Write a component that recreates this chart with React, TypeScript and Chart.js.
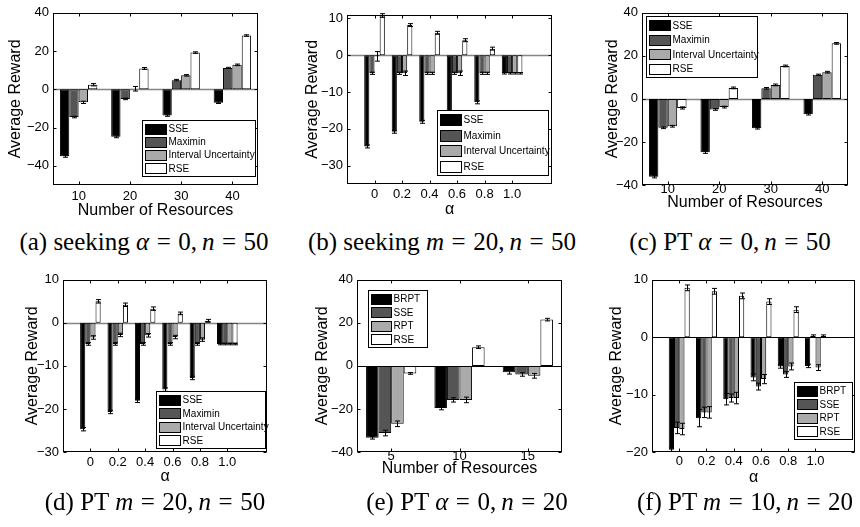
import React, { useEffect, useRef } from 'react';
import { Chart, registerables } from 'chart.js';

Chart.register(...registerables);
Chart.defaults.font.family = '"Liberation Sans", Arial, Helvetica, sans-serif';
Chart.defaults.color = '#000';

// ---------- data ----------
const namesA = ['SSE', 'Maximin', 'Interval Uncertainty', 'RSE'];
const namesPT = ['BRPT', 'SSE', 'RPT', 'RSE'];
const catsRes4 = ['10', '20', '30', '40'];
const catsRes3 = ['5', '10', '15'];
const catsAlpha = ['0', '0.2', '0.4', '0.6', '0.8', '1.0'];

// (a) seeking alpha=0, n=50
const sseA = [-35.0, -24.8, -13.7, -7.0];
const maximinA = [-14.5, -5.0, 4.8, 11.2];
const intervalA = [-6.8, 0.3, 7.3, 12.8];
const rseA = [2.4, 10.9, 19.2, 28.1];
const sseErrA = [0.5, 0.5, 0.4, 0.4];
const maximinErrA = [0.4, 0.4, 0.4, 0.3];
const intervalErrA = [0.6, 1.2, 0.4, 0.4];
const rseErrA = [0.6, 0.5, 0.4, 0.4];
const yTicksA = [-40, -20, 0, 20, 40];

// (b) seeking m=20, n=50
const sseB = [-24.8, -20.8, -18.1, -15.6, -12.8, -4.9];
const maximinB = [-4.9, -4.9, -4.9, -4.9, -4.9, -4.9];
const intervalB = [-0.3, -4.9, -4.9, -4.9, -4.9, -4.9];
const rseB = [10.8, 8.2, 6.1, 4.1, 1.8, -4.9];
const sseErrB = [0.4, 0.4, 0.4, 0.4, 0.4, 0.2];
const maximinErrB = [0.3, 0.3, 0.3, 0.3, 0.3, 0.2];
const intervalErrB = [1.3, 0.6, 0.3, 0.6, 0.3, 0.2];
const rseErrB = [0.5, 0.4, 0.4, 0.4, 0.4, 0.2];
const yTicksB = [-30, -20, -10, 0, 10];

// (c) PT alpha=0, n=50
const sseC = [-36.2, -24.8, -13.6, -7.1];
const maximinC = [-13.4, -4.9, 4.9, 11.2];
const intervalC = [-12.7, -3.8, 6.5, 12.4];
const rseC = [-4.2, 5.1, 15.3, 25.8];
const sseErrC = [0.5, 0.5, 0.4, 0.4];
const maximinErrC = [0.4, 0.4, 0.4, 0.3];
const intervalErrC = [0.4, 0.4, 0.4, 0.4];
const rseErrC = [0.5, 0.4, 0.4, 0.4];
const yTicksC = [-40, -20, 0, 20, 40];

// (d) PT m=20, n=50
const sseD = [-24.7, -20.7, -18.1, -15.5, -12.8, -4.9];
const maximinD = [-4.9, -4.9, -4.9, -4.9, -4.9, -4.9];
const intervalD = [-3.4, -2.8, -2.9, -3.3, -3.9, -4.9];
const rseD = [5.0, 4.2, 3.3, 2.2, 0.5, -4.9];
const sseErrD = [0.4, 0.4, 0.4, 0.4, 0.4, 0.2];
const maximinErrD = [0.3, 0.3, 0.3, 0.3, 0.3, 0.2];
const intervalErrD = [0.4, 0.4, 0.4, 0.4, 0.4, 0.2];
const rseErrD = [0.4, 0.4, 0.4, 0.3, 0.3, 0.2];
const yTicksD = [-30, -20, -10, 0, 10];

// (e) PT alpha=0, n=20
const brptE = [-33.4, -19.6, -2.9];
const sseE = [-31.2, -15.8, -4.0];
const rptE = [-26.9, -15.8, -4.6];
const rseE = [-3.5, 8.7, 21.5];
const brptErrE = [0.6, 0.8, 0.9];
const sseErrE = [1.3, 1.0, 0.8];
const rptErrE = [1.3, 1.3, 1.1];
const rseErrE = [0.4, 0.6, 0.6];
const yTicksE = [-40, -20, 0, 20, 40];

// (f) PT m=10, n=20
const brptF = [-19.6, -14.1, -10.8, -7.0, -5.1, -5.0];
const sseF = [-15.8, -13.1, -10.6, -8.6, -6.5, 0.2];
const rptF = [-16.0, -13.1, -10.6, -7.3, -5.1, -5.3];
const rseF = [8.6, 8.0, 7.2, 6.2, 4.8, 0.2];
const brptErrF = [0.3, 1.5, 1.0, 0.6, 0.3, 0.3];
const sseErrF = [1.0, 0.9, 0.7, 0.6, 0.5, 0.2];
const rptErrF = [1.0, 1.0, 1.0, 0.8, 0.6, 0.5];
const rseErrF = [0.5, 0.5, 0.5, 0.5, 0.5, 0.2];
const yTicksF = [-20, -10, 0, 10];

// ---------- styles / layout ----------
const COLORS = ['#000000', '#555555', '#aaaaaa', '#ffffff'];
const YW = 55, PT = 10, PR = 4, XH = 40;

type Rect = { L: number; T: number; R: number; B: number };
type Panel = {
  cats: string[]; names: string[]; series: number[][]; errs: number[][];
  yMin: number; yMax: number; yTicks: number[]; xMin: number; xMax: number;
  rect: Rect; xTitle: string; yTitlePad: number; xTickPad: number; xTitlePad: number;
  legend: { x: number; y: number; w: number; h: number };
  zeroColor: string; zeroWidth: number; groupWidth: number;
};

const panels: Panel[] = [
  {
    cats: catsRes4, names: namesA,
    series: [sseA, maximinA, intervalA, rseA], errs: [sseErrA, maximinErrA, intervalErrA, rseErrA],
    yMin: -50, yMax: 40, yTicks: yTicksA, xMin: 0.5, xMax: 4.5,
    rect: { L: 53, T: 11, R: 258, B: 185 }, xTitle: 'Number of Resources',
    yTitlePad: 10, xTickPad: 4, xTitlePad: 6,
    legend: { x: 142, y: 120, w: 113, h: 56 }, zeroColor: '#858585', zeroWidth: 1.5, groupWidth: 0.73,
  },
  {
    cats: catsAlpha, names: namesA,
    series: [sseB, maximinB, intervalB, rseB], errs: [sseErrB, maximinErrB, intervalErrB, rseErrB],
    yMin: -35, yMax: 11, yTicks: yTicksB, xMin: 0, xMax: 7.45,
    rect: { L: 347, T: 13, R: 552, B: 184 }, xTitle: 'α',
    yTitlePad: 13, xTickPad: 3, xTitlePad: 6.5,
    legend: { x: 437, y: 110, w: 111, h: 65 }, zeroColor: '#858585', zeroWidth: 1.5, groupWidth: 0.75,
  },
  {
    cats: catsRes4, names: namesA,
    series: [sseC, maximinC, intervalC, rseC], errs: [sseErrC, maximinErrC, intervalErrC, rseErrC],
    yMin: -40, yMax: 40, yTicks: yTicksC, xMin: 0.5, xMax: 4.5,
    rect: { L: 642, T: 11, R: 848, B: 185 }, xTitle: 'Number of Resources',
    yTitlePad: 18, xTickPad: -3, xTitlePad: 14,
    legend: { x: 646, y: 16, w: 111, h: 61 }, zeroColor: '#858585', zeroWidth: 1.5, groupWidth: 0.73,
  },
  {
    cats: catsAlpha, names: namesA,
    series: [sseD, maximinD, intervalD, rseD], errs: [sseErrD, maximinErrD, intervalErrD, rseErrD],
    yMin: -30, yMax: 10, yTicks: yTicksD, xMin: 0, xMax: 7.45,
    rect: { L: 63, T: 278, R: 267, B: 452 }, xTitle: 'α',
    yTitlePad: 17, xTickPad: 3, xTitlePad: 7.5,
    legend: { x: 156, y: 391, w: 109, h: 57 }, zeroColor: '#858585', zeroWidth: 1.5, groupWidth: 0.75,
  },
  {
    cats: catsRes3, names: namesPT,
    series: [brptE, sseE, rptE, rseE], errs: [brptErrE, sseErrE, rptErrE, rseErrE],
    yMin: -40, yMax: 40, yTicks: yTicksE, xMin: 0.5, xMax: 3.5,
    rect: { L: 357, T: 278, R: 562, B: 452 }, xTitle: 'Number of Resources',
    yTitlePad: 13, xTickPad: -3, xTitlePad: 15,
    legend: { x: 368, y: 290, w: 59, h: 57 }, zeroColor: '#000000', zeroWidth: 1, groupWidth: 0.735,
  },
  {
    cats: catsAlpha, names: namesPT,
    series: [brptF, sseF, rptF, rseF], errs: [brptErrF, sseErrF, rptErrF, rseErrF],
    yMin: -20, yMax: 10, yTicks: yTicksF, xMin: 0, xMax: 7.45,
    rect: { L: 652, T: 278, R: 855, B: 452 }, xTitle: 'α',
    yTitlePad: 12, xTickPad: 2, xTitlePad: 6,
    legend: { x: 794, y: 382, w: 58, h: 57 }, zeroColor: '#000000', zeroWidth: 1, groupWidth: 0.77,
  },
];

type Tok = [string, string];
const captions: { cx: number; cy: number; toks: Tok[] }[] = [
  { cx: 144, cy: 242, toks: [['r', '(a) seeking '], ['i', 'α'], ['e', '='], ['r', '0'], ['c', ','], ['i', 'n'], ['e', '='], ['r', '50']] },
  { cx: 442, cy: 242, toks: [['r', '(b) seeking '], ['i', 'm'], ['e', '='], ['r', '20'], ['c', ','], ['i', 'n'], ['e', '='], ['r', '50']] },
  { cx: 730, cy: 242, toks: [['r', '(c) PT '], ['i', 'α'], ['e', '='], ['r', '0'], ['c', ','], ['i', 'n'], ['e', '='], ['r', '50']] },
  { cx: 155, cy: 502, toks: [['r', '(d) PT '], ['i', 'm'], ['e', '='], ['r', '20'], ['c', ','], ['i', 'n'], ['e', '='], ['r', '50']] },
  { cx: 467, cy: 502, toks: [['r', '(e) PT '], ['i', 'α'], ['e', '='], ['r', '0'], ['c', ','], ['i', 'n'], ['e', '='], ['r', '20']] },
  { cx: 745, cy: 502, toks: [['r', '(f) PT '], ['i', 'm'], ['e', '='], ['r', '10'], ['c', ','], ['i', 'n'], ['e', '='], ['r', '20']] },
];

const fmt = (v: number) => (v < 0 ? '\u2212' + Math.abs(v) : String(v));

function PanelChart({ p }: { p: Panel }) {
  const ref = useRef<HTMLCanvasElement>(null);
  const cx = p.rect.L - YW;
  const cy = p.rect.T - PT;
  const w = p.rect.R - p.rect.L + YW + PR;
  const h = p.rect.B - p.rect.T + PT + XH;

  useEffect(() => {
    const decor = {
      id: 'decor',
      beforeDatasetsDraw(chart: any) {
        const { ctx, chartArea: a, scales } = chart;
        const y0 = Math.round(scales.y.getPixelForValue(0)) + 0.5;
        ctx.save();
        ctx.strokeStyle = p.zeroColor;
        ctx.lineWidth = p.zeroWidth;
        ctx.beginPath();
        ctx.moveTo(a.left, y0);
        ctx.lineTo(a.right, y0);
        ctx.stroke();
        ctx.restore();
      },
      afterDatasetsDraw(chart: any) {
        const { ctx, scales } = chart;
        ctx.save();
        ctx.strokeStyle = '#000';
        ctx.lineWidth = 1;
        p.series.forEach((s, i) => {
          const meta = chart.getDatasetMeta(i);
          s.forEach((v, j) => {
            const e = p.errs[i][j];
            const el = meta.data[j];
            if (!el) return;
            const x = Math.round(el.x) + 0.5;
            const yt = scales.y.getPixelForValue(v + e);
            const yb = scales.y.getPixelForValue(v - e);
            ctx.beginPath();
            ctx.moveTo(x, yt);
            ctx.lineTo(x, yb);
            ctx.moveTo(x - 2.5, yt);
            ctx.lineTo(x + 2.5, yt);
            ctx.moveTo(x - 2.5, yb);
            ctx.lineTo(x + 2.5, yb);
            ctx.stroke();
          });
        });
        ctx.restore();
      },
      afterDraw(chart: any) {
        const { ctx, chartArea: a, scales } = chart;
        ctx.save();
        ctx.strokeStyle = '#000';
        ctx.lineWidth = 1;
        const l = Math.round(a.left) + 0.5, r = Math.round(a.right) - 0.5;
        const t = Math.round(a.top) + 0.5, b = Math.round(a.bottom) - 0.5;
        ctx.strokeRect(l, t, r - l, b - t);
        const tl = 3;
        ctx.beginPath();
        p.yTicks.forEach((v) => {
          const y = Math.round(scales.y.getPixelForValue(v)) + 0.5;
          ctx.moveTo(l, y); ctx.lineTo(l + tl, y);
          ctx.moveTo(r, y); ctx.lineTo(r - tl, y);
        });
        p.cats.forEach((_, i) => {
          const x = Math.round(scales.x.getPixelForValue(i + 1)) + 0.5;
          ctx.moveTo(x, b); ctx.lineTo(x, b - tl);
          ctx.moveTo(x, t); ctx.lineTo(x, t + tl);
        });
        ctx.stroke();
        // legend inside the axes
        const lg = p.legend;
        const lx = lg.x - cx + 0.5, ly = lg.y - cy + 0.5;
        ctx.fillStyle = '#fff';
        ctx.fillRect(lx, ly, lg.w, lg.h);
        ctx.strokeRect(lx, ly, lg.w, lg.h);
        const pitch = (lg.h - 3) / 4;
        const sw = lg.w < 80 ? 20 : 21;
        ctx.font = '10px "Liberation Sans", Arial, sans-serif';
        ctx.textBaseline = 'middle';
        ctx.textAlign = 'left';
        p.names.forEach((n, i) => {
          const rowC = ly + 1.5 + pitch * (i + 0.5);
          const sh = Math.round(pitch * 0.72);
          const sy = Math.round(rowC - sh / 2) + 0.5;
          ctx.fillStyle = COLORS[i];
          ctx.fillRect(lx + 3, sy, sw, sh);
          ctx.strokeStyle = '#000';
          ctx.strokeRect(lx + 3, sy, sw, sh);
          ctx.fillStyle = '#000';
          ctx.fillText(n, lx + 3 + sw + 2, rowC + 0.5);
        });
        ctx.restore();
      },
    };

    const chart = new Chart(ref.current as HTMLCanvasElement, {
      type: 'bar',
      data: {
        datasets: p.series.map((s, i) => ({
          label: p.names[i],
          data: s.map((v, j) => ({ x: j + 1, y: v })),
          backgroundColor: COLORS[i],
          borderColor: '#000',
          borderWidth: 1,
          borderSkipped: false,
          categoryPercentage: p.groupWidth,
          barPercentage: 1,
        })),
      } as any,
      options: {
        animation: false,
        responsive: false,
        devicePixelRatio: 1,
        events: [],
        layout: { padding: { top: PT, right: PR, left: 0, bottom: 0 } },
        plugins: { legend: { display: false }, tooltip: { enabled: false }, title: { display: false } },
        scales: {
          x: {
            type: 'linear',
            min: p.xMin,
            max: p.xMax,
            offset: false,
            grid: { display: false, drawTicks: false },
            border: { display: false },
            ticks: {
              font: { size: 13 },
              color: '#000',
              padding: p.xTickPad,
              maxRotation: 0,
              autoSkip: false,
              callback: (v: any) => p.cats[Math.round(Number(v)) - 1] ?? '',
            },
            afterBuildTicks: (s: any) => {
              s.ticks = p.cats.map((_, i) => ({ value: i + 1 }));
            },
            afterFit: (s: any) => {
              s.height = XH;
            },
            title: {
              display: true,
              text: p.xTitle,
              color: '#000',
              font: { size: 16, lineHeight: 1 },
              padding: { top: 0, bottom: p.xTitlePad },
            },
          },
          y: {
            type: 'linear',
            min: p.yMin,
            max: p.yMax,
            grid: { display: false, drawTicks: false },
            border: { display: false },
            ticks: {
              font: { size: 13 },
              color: '#000',
              padding: 4,
              callback: (v: any) => fmt(Number(v)),
            },
            afterBuildTicks: (s: any) => {
              s.ticks = p.yTicks.map((v) => ({ value: v }));
            },
            afterFit: (s: any) => {
              s.width = YW;
            },
            title: {
              display: true,
              text: 'Average Reward',
              color: '#000',
              font: { size: 16, lineHeight: 1 },
              padding: { top: p.yTitlePad, bottom: 0 },
            },
          },
        },
      } as any,
      plugins: [decor],
    });
    return () => chart.destroy();
  }, []);

  return (
    <canvas
      ref={ref}
      width={w}
      height={h}
      style={{ position: 'absolute', left: cx, top: cy, width: w, height: h }}
    />
  );
}

function Caption({ c }: { c: { cx: number; cy: number; toks: Tok[] } }) {
  return (
    <div
      style={{
        position: 'absolute',
        left: c.cx - 200,
        top: c.cy - 15,
        width: 400,
        height: 30,
        lineHeight: '30px',
        textAlign: 'center',
        whiteSpace: 'nowrap',
        fontFamily: '"Liberation Serif", "Times New Roman", serif',
        fontSize: 25,
        color: '#000',
      }}
    >
      {c.toks.map(([k, t], i) => {
        if (k === 'i') return <i key={i}>{t}</i>;
        if (k === 'e') return <span key={i} style={{ margin: '0 0.3em' }}>{t}</span>;
        if (k === 'c') return <span key={i} style={{ marginRight: '0.2em' }}>{t}</span>;
        return <span key={i} style={{ whiteSpace: 'pre' }}>{t}</span>;
      })}
    </div>
  );
}

export default function App() {
  return (
    <div
      style={{
        position: 'fixed',
        left: 0,
        top: 0,
        width: 860,
        height: 527,
        background: '#fff',
        overflow: 'hidden',
      }}
    >
      {panels.map((p, i) => (
        <PanelChart key={i} p={p} />
      ))}
      {captions.map((c, i) => (
        <Caption key={i} c={c} />
      ))}
    </div>
  );
}
